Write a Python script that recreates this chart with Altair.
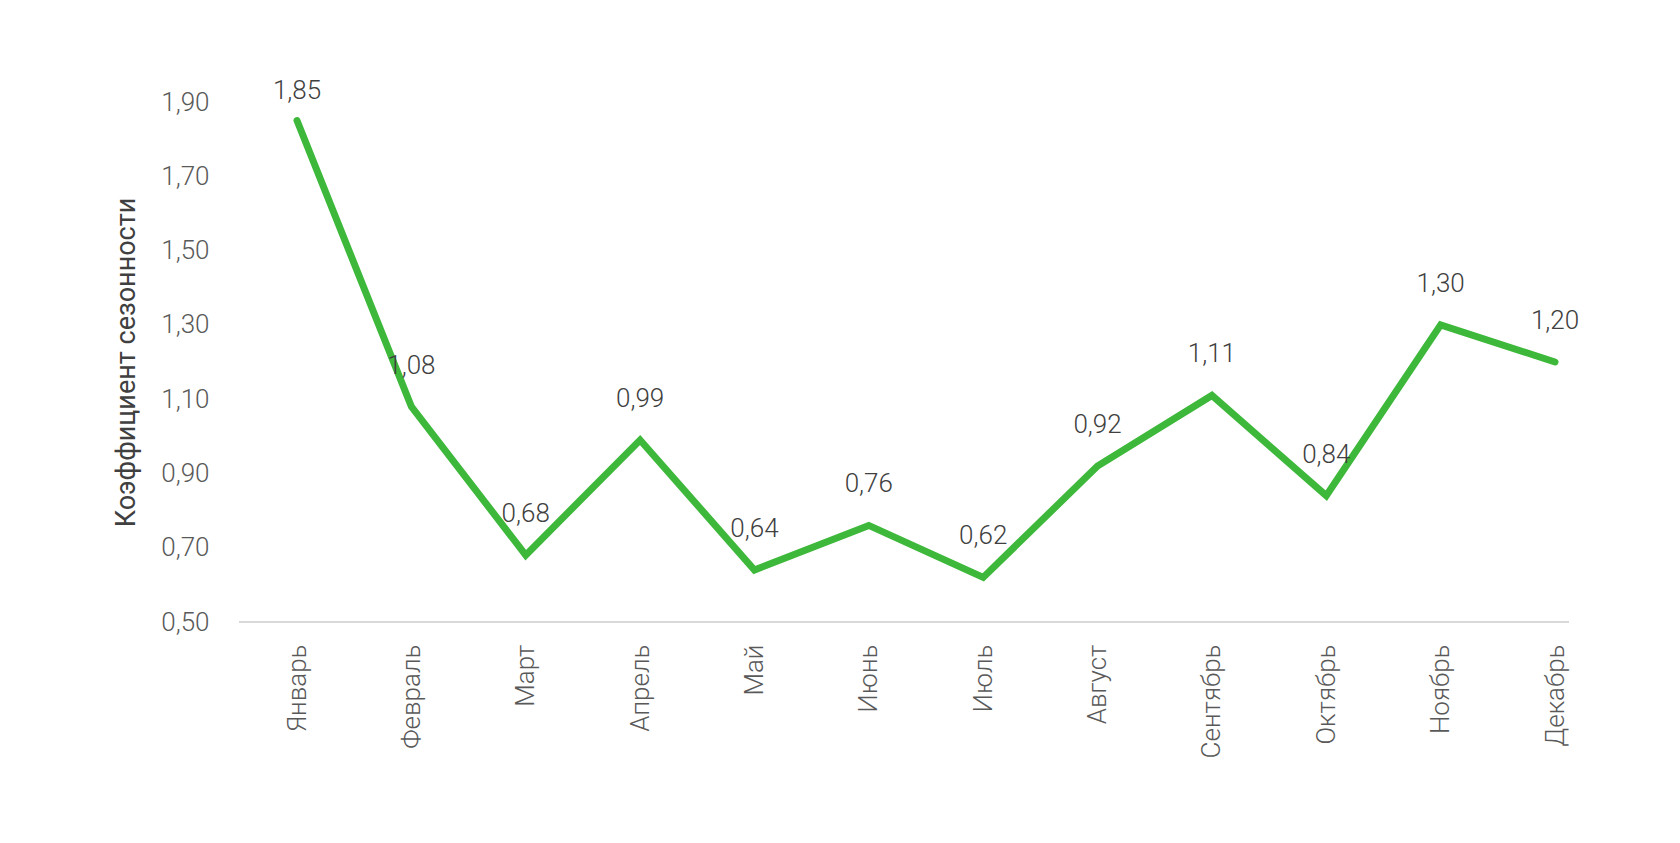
import altair as alt
import pandas as pd

months = ["Январь", "Февраль", "Март", "Апрель", "Май", "Июнь",
          "Июль", "Август", "Сентябрь", "Октябрь", "Ноябрь", "Декабрь"]
values = [1.85, 1.08, 0.68, 0.99, 0.64, 0.76, 0.62, 0.92, 1.11, 0.84, 1.30, 1.20]
y_ticks = [0.5, 0.7, 0.9, 1.1, 1.3, 1.5, 1.7, 1.9]

df = pd.DataFrame({"month": months, "value": values})

FONT = "Roboto"
W, H = 1330, 520

x = alt.X("month:N", sort=months,
          scale=alt.Scale(type="point", range=[58, 1316], padding=0),
          axis=alt.Axis(title=None, labelAngle=-90, labelFontSize=26, labelFont=FONT,
                        labelFontWeight=300, labelColor="#595959", labelPadding=22,
                        ticks=False, domain=False, grid=False))
yscale = alt.Scale(domain=[0.5, 1.9], nice=False, zero=False)
y = alt.Y("value:Q", scale=yscale,
          axis=alt.Axis(title="Коэффициент сезонности", values=y_ticks,
                        labelExpr="replace(format(datum.value, '.2f'), '.', ',')",
                        labelFontSize=26, labelFont=FONT, labelFontWeight=300,
                        labelColor="#595959", labelPadding=30, ticks=False,
                        domain=False, grid=False, titleFont=FONT, titleFontSize=27,
                        titleFontWeight="normal", titleColor="#404040", titlePadding=20))

base = alt.Chart(df)

baseline = base.mark_rule(color="#d9d9d9", strokeWidth=2).encode(
    x=alt.value(0), x2=alt.value(W), y=alt.value(H))

line = base.mark_line(color="#3db83a", strokeWidth=7, strokeCap="round",
                      strokeJoin="miter").encode(x=x, y=y)

# labels kept inside the plot area, as the spreadsheet does
labels = base.transform_calculate(
    label="replace(format(datum.value, '.2f'), '.', ',')",
    ly="min(datum.value, 1.82)"
).mark_text(dy=-41, fontSize=26, font=FONT, fontWeight=300, color="#404040",
            baseline="middle").encode(x=x, y=alt.Y("ly:Q", scale=yscale), text="label:N")

chart = (baseline + line + labels).properties(
    width=W, height=H,
    background="white",
    autosize=alt.AutoSizeParams(type="none"),
    padding={"left": 231, "top": 94, "right": 60, "bottom": 200},
).configure_view(strokeWidth=0)

chart.save("out.html", embed_options={"renderer": "svg", "actions": False})
